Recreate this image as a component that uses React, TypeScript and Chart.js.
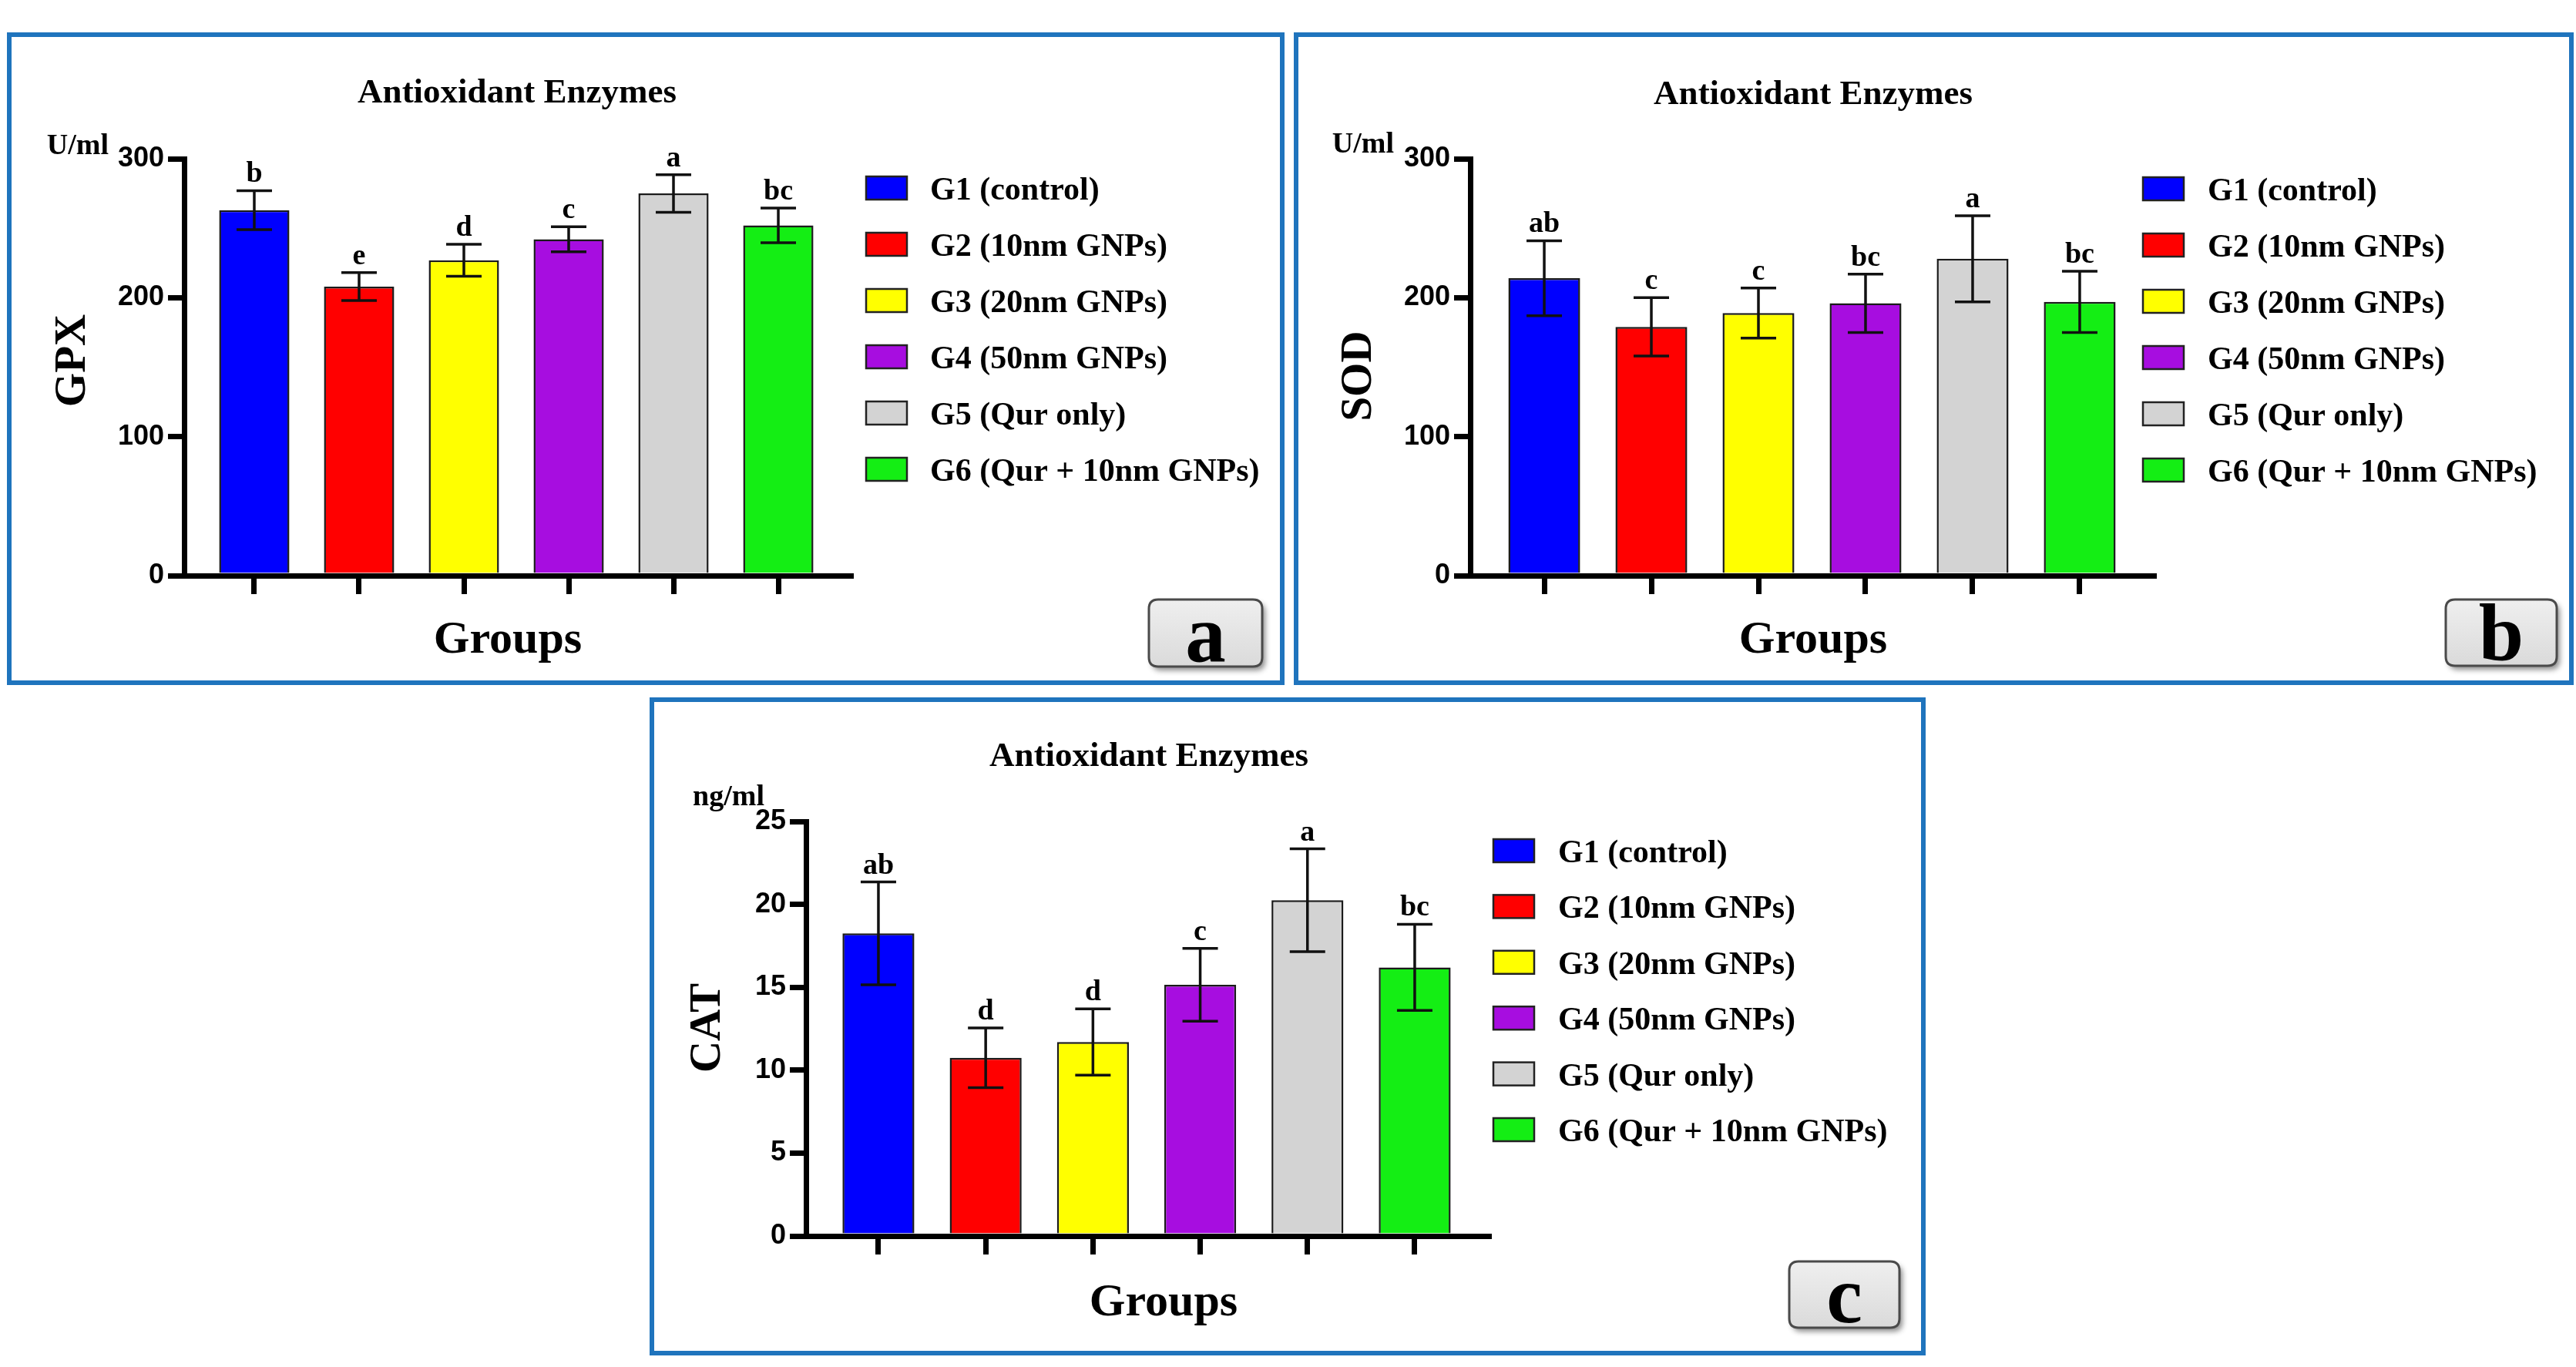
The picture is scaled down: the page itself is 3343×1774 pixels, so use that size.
import React, { useEffect, useRef } from 'react';
import { Chart, registerables } from 'chart.js';

Chart.register(...registerables);

// ---------------- data ----------------
const groupLabels = ['G1 (control)', 'G2 (10nm GNPs)', 'G3 (20nm GNPs)', 'G4 (50nm GNPs)', 'G5 (Qur only)', 'G6 (Qur + 10nm GNPs)'];
const groupColors = ['#0000ff', '#ff0000', '#ffff00', '#a70de0', '#d3d3d3', '#14ee14'];

const gpxMeans = [263, 208, 227, 242, 275, 252];
const gpxErrors = [14, 10, 11.5, 9, 13.5, 12.5];
const gpxLetters = ['b', 'e', 'd', 'c', 'a', 'bc'];
const gpxTicks = [0, 100, 200, 300];

const sodMeans = [214, 179, 189, 196, 228, 197];
const sodErrors = [27, 21, 18, 21, 31, 22];
const sodLetters = ['ab', 'c', 'c', 'bc', 'a', 'bc'];
const sodTicks = [0, 100, 200, 300];

const catMeans = [18.25, 10.75, 11.7, 15.15, 20.25, 16.2];
const catErrors = [3.1, 1.8, 2.0, 2.2, 3.1, 2.6];
const catLetters = ['ab', 'd', 'd', 'c', 'a', 'bc'];
const catTicks = [0, 5, 10, 15, 20, 25];

const chartTitle = 'Antioxidant Enzymes';
const xAxisTitle = 'Groups';

// ---------------- styles ----------------
const SERIF = '"Liberation Serif", "Times New Roman", Times, serif';
const SANS = '"Liberation Sans", Arial, Helvetica, sans-serif';
const FRAME = '#1f74bd';

type PanelCfg = {
  key: string;
  box: { left: number; top: number; w: number; h: number };
  chart: { left: number; right: number; top: number; bottom: number };
  xMin: number;
  xMax: number;
  ticks: number[];
  means: number[];
  errors: number[];
  letters: string[];
  yTitle: string;
  yTitlePos: { x: number; y: number };
  unit: string;
  unitPos: { right: number; base: number };
  titlePos: { x: number; y: number };
  groupsPos: { x: number; y: number };
  legend: { boxX: number; top: number; step: number; textX: number };
  tag: { x: number; y: number; w: number; h: number; letter: string };
};

const panels: PanelCfg[] = [
  {
    key: 'a',
    box: { left: 9, top: 42, w: 1658, h: 847 },
    chart: { left: 239, right: 1104, top: 206, bottom: 747 },
    xMin: -0.669, xMax: 5.691,
    ticks: gpxTicks, means: gpxMeans, errors: gpxErrors, letters: gpxLetters,
    yTitle: 'GPX', yTitlePos: { x: 95, y: 468 },
    unit: 'U/ml', unitPos: { right: 141, base: 200 },
    titlePos: { x: 671, y: 133 },
    groupsPos: { x: 659, y: 847 },
    legend: { boxX: 1124, top: 229, step: 73, textX: 1207 },
    tag: { x: 1491, y: 778, w: 147, h: 87, letter: 'a' },
  },
  {
    key: 'b',
    box: { left: 1679, top: 42, w: 1661, h: 847 },
    chart: { left: 1908, right: 2795, top: 206, bottom: 747 },
    xMin: -0.691, xMax: 5.691,
    ticks: sodTicks, means: sodMeans, errors: sodErrors, letters: sodLetters,
    yTitle: 'SOD', yTitlePos: { x: 1764, y: 488 },
    unit: 'U/ml', unitPos: { right: 1809, base: 198 },
    titlePos: { x: 2353, y: 135 },
    groupsPos: { x: 2353, y: 847 },
    legend: { boxX: 2781, top: 230, step: 73, textX: 2865 },
    tag: { x: 3174, y: 778, w: 144, h: 86, letter: 'b' },
  },
  {
    key: 'c',
    box: { left: 843, top: 905, w: 1656, h: 854 },
    chart: { left: 1046, right: 1932, top: 1066, bottom: 1604 },
    xMin: -0.675, xMax: 5.69,
    ticks: catTicks, means: catMeans, errors: catErrors, letters: catLetters,
    yTitle: 'CAT', yTitlePos: { x: 919, y: 1334 },
    unit: 'ng/ml', unitPos: { right: 992, base: 1045 },
    titlePos: { x: 1491, y: 994 },
    groupsPos: { x: 1510, y: 1707 },
    legend: { boxX: 1938, top: 1089, step: 72.4, textX: 2022 },
    tag: { x: 2322, y: 1637, w: 143, h: 86, letter: 'c' },
  },
];

function roundRect(ctx: CanvasRenderingContext2D, x: number, y: number, w: number, h: number, r: number) {
  ctx.beginPath();
  ctx.moveTo(x + r, y);
  ctx.lineTo(x + w - r, y);
  ctx.quadraticCurveTo(x + w, y, x + w, y + r);
  ctx.lineTo(x + w, y + h - r);
  ctx.quadraticCurveTo(x + w, y + h, x + w - r, y + h);
  ctx.lineTo(x + r, y + h);
  ctx.quadraticCurveTo(x, y + h, x, y + h - r);
  ctx.lineTo(x, y + r);
  ctx.quadraticCurveTo(x, y, x + r, y);
  ctx.closePath();
}

function makeExtras(p: PanelCfg) {
  const ox = p.box.left;
  const oy = p.box.top;
  return {
    id: 'extras_' + p.key,
    afterDatasetsDraw(chart: any) {
      const ctx: CanvasRenderingContext2D = chart.ctx;
      const xs = chart.scales.x;
      const ys = chart.scales.y;
      ctx.save();
      ctx.strokeStyle = '#111';
      ctx.lineWidth = 3.5;
      const capHalf = 23;
      p.means.forEach((m, i) => {
        const x = xs.getPixelForValue(i);
        const yT = ys.getPixelForValue(m + p.errors[i]);
        const yB = ys.getPixelForValue(m - p.errors[i]);
        ctx.beginPath();
        ctx.moveTo(x, yT);
        ctx.lineTo(x, yB);
        ctx.moveTo(x - capHalf, yT);
        ctx.lineTo(x + capHalf, yT);
        ctx.moveTo(x - capHalf, yB);
        ctx.lineTo(x + capHalf, yB);
        ctx.stroke();
        ctx.font = `bold 38px ${SERIF}`;
        ctx.fillStyle = '#000';
        ctx.textAlign = 'center';
        ctx.textBaseline = 'alphabetic';
        ctx.fillText(p.letters[i], x, yT - 11);
      });
      ctx.restore();
    },
    afterDraw(chart: any) {
      const ctx: CanvasRenderingContext2D = chart.ctx;
      ctx.save();
      ctx.fillStyle = '#000';
      ctx.textBaseline = 'alphabetic';

      // title
      ctx.font = `bold 45px ${SERIF}`;
      ctx.textAlign = 'center';
      ctx.fillText(chartTitle, p.titlePos.x - ox, p.titlePos.y - oy);

      // unit
      ctx.font = `bold 38px ${SERIF}`;
      ctx.textAlign = 'right';
      ctx.fillText(p.unit, p.unitPos.right - ox, p.unitPos.base - oy);

      // x axis title
      ctx.font = `bold 60px ${SERIF}`;
      ctx.textAlign = 'center';
      ctx.fillText(xAxisTitle, p.groupsPos.x - ox, p.groupsPos.y - oy);

      // y axis title (rotated)
      ctx.save();
      ctx.translate(p.yTitlePos.x - ox, p.yTitlePos.y - oy);
      ctx.rotate(-Math.PI / 2);
      ctx.font = `bold 57px ${SERIF}`;
      ctx.textAlign = 'center';
      ctx.textBaseline = 'middle';
      ctx.fillText(p.yTitle, 0, 0);
      ctx.restore();

      // legend
      const bw = 53;
      const bh = 30;
      groupLabels.forEach((lab, i) => {
        const top = p.legend.top + i * p.legend.step - oy;
        const bx = p.legend.boxX - ox;
        ctx.fillStyle = groupColors[i];
        ctx.fillRect(bx, top, bw, bh);
        ctx.strokeStyle = '#222';
        ctx.lineWidth = 2.5;
        ctx.strokeRect(bx, top, bw, bh);
        ctx.fillStyle = '#000';
        ctx.font = `bold 42px ${SERIF}`;
        ctx.textAlign = 'left';
        ctx.textBaseline = 'alphabetic';
        ctx.fillText(lab, p.legend.textX - ox, top + bh / 2 + 15);
      });

      // panel tag
      const t = p.tag;
      const tx = t.x - ox;
      const ty = t.y - oy;
      ctx.save();
      ctx.shadowColor = 'rgba(0,0,0,0.45)';
      ctx.shadowOffsetX = 4;
      ctx.shadowOffsetY = 5;
      ctx.shadowBlur = 7;
      const grad = ctx.createLinearGradient(0, ty, 0, ty + t.h);
      grad.addColorStop(0, '#efefef');
      grad.addColorStop(1, '#dadada');
      ctx.fillStyle = grad;
      roundRect(ctx, tx, ty, t.w, t.h, 12);
      ctx.fill();
      ctx.restore();
      ctx.strokeStyle = '#4a4a4a';
      ctx.lineWidth = 3;
      roundRect(ctx, tx, ty, t.w, t.h, 12);
      ctx.stroke();
      ctx.fillStyle = '#000';
      ctx.font = `bold 105px ${SERIF}`;
      ctx.textAlign = 'center';
      ctx.textBaseline = 'alphabetic';
      ctx.fillText(t.letter, tx + t.w / 2, ty + t.h - 7);

      ctx.restore();
    },
  };
}

function Panel({ p }: { p: PanelCfg }) {
  const ref = useRef<HTMLCanvasElement | null>(null);
  useEffect(() => {
    const canvas = ref.current;
    if (!canvas) return;
    const ox = p.box.left;
    const oy = p.box.top;
    const W = p.box.w;
    const H = p.box.h;
    const cl = p.chart.left - ox;
    const cr = p.chart.right - ox;
    const ct = p.chart.top - oy;
    const cb = p.chart.bottom - oy;
    const yW = 120;
    const xH = 60;
    const axisGrid = {
      drawOnChartArea: false,
      drawTicks: true,
      color: '#000',
      tickColor: '#000',
      lineWidth: 7,
      tickWidth: 7,
      offset: false,
    };
    const chart = new Chart(canvas, {
      type: 'bar',
      data: {
        datasets: [
          {
            data: p.means.map((v, i) => ({ x: i, y: v })),
            backgroundColor: groupColors,
            borderColor: '#1a1a1a',
            borderWidth: 2.5,
            borderSkipped: 'start',
            categoryPercentage: 1,
            barPercentage: 0.67,
          } as any,
        ],
      },
      options: {
        responsive: false,
        animation: false,
        devicePixelRatio: 1,
        layout: {
          padding: { left: cl - yW, right: W - cr, top: ct, bottom: H - cb - xH },
        },
        plugins: {
          legend: { display: false },
          title: { display: false },
          tooltip: { enabled: false },
        },
        scales: {
          x: {
            type: 'linear',
            min: p.xMin,
            max: p.xMax,
            offset: false,
            afterFit: (s: any) => {
              s.height = xH;
            },
            grid: { ...axisGrid, tickLength: 24 },
            border: { display: true, color: '#000', width: 7, z: 1 },
            ticks: {
              stepSize: 1,
              includeBounds: false,
              autoSkip: false,
              padding: 0,
              callback: () => '',
            },
          },
          y: {
            type: 'linear',
            min: p.ticks[0],
            max: p.ticks[p.ticks.length - 1],
            afterFit: (s: any) => {
              s.width = yW;
            },
            afterBuildTicks: (s: any) => {
              s.ticks = p.ticks.map((v) => ({ value: v }));
            },
            grid: { ...axisGrid, tickLength: 21 },
            border: { display: true, color: '#000', width: 7, z: 1 },
            ticks: {
              color: '#000',
              padding: 5,
              font: { family: SANS, size: 36, weight: 'bold' },
            },
          },
        },
      } as any,
      plugins: [makeExtras(p)],
    });
    return () => chart.destroy();
  }, [p]);

  return (
    <div style={{ position: 'absolute', left: p.box.left, top: p.box.top, width: p.box.w, height: p.box.h }}>
      <canvas
        ref={ref}
        width={p.box.w}
        height={p.box.h}
        style={{ position: 'absolute', left: 0, top: 0, width: p.box.w, height: p.box.h, display: 'block' }}
      />
      <div
        style={{
          position: 'absolute',
          left: 0,
          top: 0,
          width: p.box.w,
          height: p.box.h,
          border: `6px solid ${FRAME}`,
          boxSizing: 'border-box',
          pointerEvents: 'none',
        }}
      />
    </div>
  );
}

export default function App() {
  return (
    <div
      style={{
        position: 'absolute',
        left: 0,
        top: 0,
        width: 3343,
        height: 1774,
        background: '#ffffff',
        overflow: 'hidden',
      }}
    >
      {panels.map((p) => (
        <Panel key={p.key} p={p} />
      ))}
    </div>
  );
}
